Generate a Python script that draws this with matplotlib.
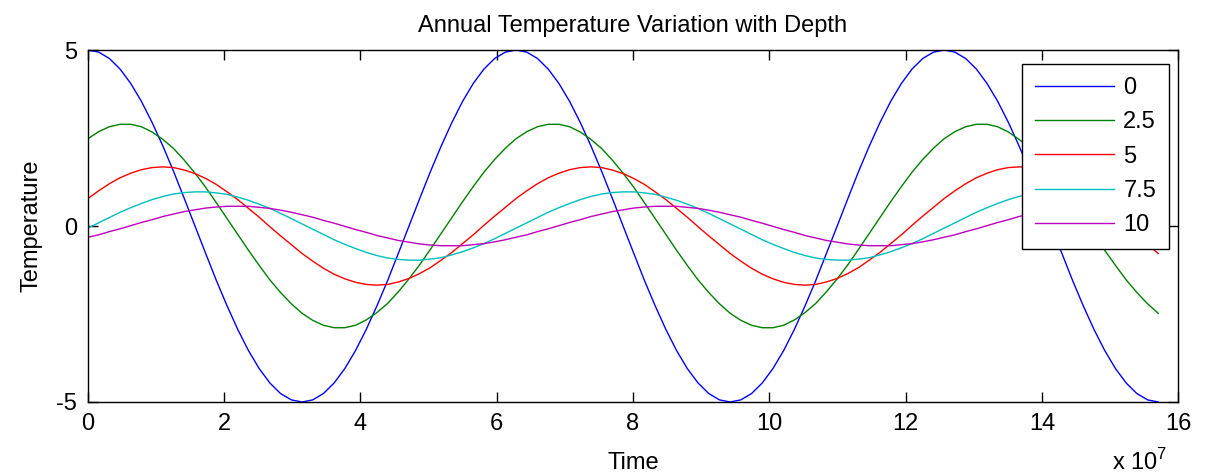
import matplotlib
matplotlib.use("Agg")
import matplotlib.pyplot as plt

plt.rcParams['font.family'] = ['Liberation Sans', 'DejaVu Sans']
plt.rcParams['mathtext.fontset'] = 'custom'
plt.rcParams['mathtext.rm'] = 'Liberation Sans'
plt.rcParams['axes.unicode_minus'] = False

# time in units of 1e7 s
time = [0.000, 0.157, 0.314, 0.471, 0.628, 0.785, 0.942, 1.100, 1.257, 1.414,
        1.571, 1.728, 1.885, 2.042, 2.199, 2.356, 2.513, 2.670, 2.827, 2.985,
        3.142, 3.299, 3.456, 3.613, 3.770, 3.927, 4.084, 4.241, 4.398, 4.555,
        4.712, 4.869, 5.027, 5.184, 5.341, 5.498, 5.655, 5.812, 5.969, 6.126,
        6.283, 6.440, 6.597, 6.754, 6.912, 7.069, 7.226, 7.383, 7.540, 7.697,
        7.854, 8.011, 8.168, 8.325, 8.482, 8.639, 8.796, 8.954, 9.111, 9.268,
        9.425, 9.582, 9.739, 9.896, 10.053, 10.210, 10.367, 10.524, 10.681, 10.838,
        10.996, 11.153, 11.310, 11.467, 11.624, 11.781, 11.938, 12.095, 12.252, 12.409,
        12.566, 12.723, 12.881, 13.038, 13.195, 13.352, 13.509, 13.666, 13.823, 13.980,
        14.137, 14.294, 14.451, 14.608, 14.765, 14.923, 15.080, 15.237, 15.394, 15.551,
        15.708]

depths = ['0', '2.5', '5', '7.5', '10']

temp_0 = [5.00, 4.94, 4.76, 4.46, 4.05, 3.54, 2.94, 2.27, 1.55, 0.78,
          0.00, -0.78, -1.55, -2.27, -2.94, -3.54, -4.05, -4.46, -4.76, -4.94,
          -5.00, -4.94, -4.76, -4.46, -4.05, -3.54, -2.94, -2.27, -1.55, -0.78,
          0.00, 0.78, 1.55, 2.27, 2.94, 3.54, 4.05, 4.46, 4.76, 4.94,
          5.00, 4.94, 4.76, 4.46, 4.05, 3.54, 2.94, 2.27, 1.55, 0.78,
          0.00, -0.78, -1.55, -2.27, -2.94, -3.54, -4.05, -4.46, -4.76, -4.94,
          -5.00, -4.94, -4.76, -4.46, -4.05, -3.54, -2.94, -2.27, -1.55, -0.78,
          0.00, 0.78, 1.55, 2.27, 2.94, 3.54, 4.05, 4.46, 4.76, 4.94,
          5.00, 4.94, 4.76, 4.46, 4.05, 3.54, 2.94, 2.27, 1.55, 0.78,
          0.00, -0.78, -1.55, -2.27, -2.94, -3.54, -4.05, -4.46, -4.76, -4.94,
          -5.00]
temp_25 = [2.48, 2.68, 2.82, 2.89, 2.89, 2.82, 2.67, 2.46, 2.20, 1.87,
           1.50, 1.10, 0.66, 0.21, -0.24, -0.69, -1.12, -1.53, -1.89, -2.21,
           -2.48, -2.68, -2.82, -2.89, -2.89, -2.82, -2.67, -2.46, -2.20, -1.87,
           -1.50, -1.10, -0.66, -0.21, 0.24, 0.69, 1.12, 1.53, 1.89, 2.21,
           2.48, 2.68, 2.82, 2.89, 2.89, 2.82, 2.67, 2.46, 2.20, 1.87,
           1.50, 1.10, 0.66, 0.21, -0.24, -0.69, -1.12, -1.53, -1.89, -2.21,
           -2.48, -2.68, -2.82, -2.89, -2.89, -2.82, -2.67, -2.46, -2.20, -1.87,
           -1.50, -1.10, -0.66, -0.21, 0.24, 0.69, 1.12, 1.53, 1.89, 2.21,
           2.48, 2.68, 2.82, 2.89, 2.89, 2.82, 2.67, 2.46, 2.20, 1.87,
           1.50, 1.10, 0.66, 0.21, -0.24, -0.69, -1.12, -1.53, -1.89, -2.21,
           -2.48]
temp_5 = [0.78, 1.00, 1.20, 1.37, 1.50, 1.60, 1.66, 1.68, 1.66, 1.59,
          1.49, 1.35, 1.18, 0.97, 0.75, 0.50, 0.25, -0.02, -0.28, -0.53,
          -0.78, -1.00, -1.20, -1.37, -1.50, -1.60, -1.66, -1.68, -1.66, -1.59,
          -1.49, -1.35, -1.18, -0.97, -0.75, -0.50, -0.25, 0.02, 0.28, 0.53,
          0.78, 1.00, 1.20, 1.37, 1.50, 1.60, 1.66, 1.68, 1.66, 1.59,
          1.49, 1.35, 1.18, 0.97, 0.75, 0.50, 0.25, -0.02, -0.28, -0.53,
          -0.78, -1.00, -1.20, -1.37, -1.50, -1.60, -1.66, -1.68, -1.66, -1.59,
          -1.49, -1.35, -1.18, -0.97, -0.75, -0.50, -0.25, 0.02, 0.28, 0.53,
          0.78, 1.00, 1.20, 1.37, 1.50, 1.60, 1.66, 1.68, 1.66, 1.59,
          1.49, 1.35, 1.18, 0.97, 0.75, 0.50, 0.25, -0.02, -0.28, -0.53,
          -0.78]
temp_75 = [-0.06, 0.09, 0.24, 0.39, 0.52, 0.64, 0.75, 0.84, 0.91, 0.95,
           0.97, 0.97, 0.94, 0.90, 0.82, 0.73, 0.62, 0.50, 0.36, 0.21,
           0.06, -0.09, -0.24, -0.39, -0.52, -0.64, -0.75, -0.84, -0.91, -0.95,
           -0.97, -0.97, -0.94, -0.90, -0.82, -0.73, -0.62, -0.50, -0.36, -0.21,
           -0.06, 0.09, 0.24, 0.39, 0.52, 0.64, 0.75, 0.84, 0.91, 0.95,
           0.97, 0.97, 0.94, 0.90, 0.82, 0.73, 0.62, 0.50, 0.36, 0.21,
           0.06, -0.09, -0.24, -0.39, -0.52, -0.64, -0.75, -0.84, -0.91, -0.95,
           -0.97, -0.97, -0.94, -0.90, -0.82, -0.73, -0.62, -0.50, -0.36, -0.21,
           -0.06, 0.09, 0.24, 0.39, 0.52, 0.64, 0.75, 0.84, 0.91, 0.95,
           0.97, 0.97, 0.94, 0.90, 0.82, 0.73, 0.62, 0.50, 0.36, 0.21,
           0.06]
temp_10 = [-0.32, -0.25, -0.16, -0.08, 0.01, 0.10, 0.18, 0.27, 0.34, 0.41,
           0.46, 0.51, 0.54, 0.56, 0.56, 0.56, 0.53, 0.50, 0.45, 0.39,
           0.32, 0.25, 0.16, 0.08, -0.01, -0.10, -0.18, -0.27, -0.34, -0.41,
           -0.46, -0.51, -0.54, -0.56, -0.56, -0.56, -0.53, -0.50, -0.45, -0.39,
           -0.32, -0.25, -0.16, -0.08, 0.01, 0.10, 0.18, 0.27, 0.34, 0.41,
           0.46, 0.51, 0.54, 0.56, 0.56, 0.56, 0.53, 0.50, 0.45, 0.39,
           0.32, 0.25, 0.16, 0.08, -0.01, -0.10, -0.18, -0.27, -0.34, -0.41,
           -0.46, -0.51, -0.54, -0.56, -0.56, -0.56, -0.53, -0.50, -0.45, -0.39,
           -0.32, -0.25, -0.16, -0.08, 0.01, 0.10, 0.18, 0.27, 0.34, 0.41,
           0.46, 0.51, 0.54, 0.56, 0.56, 0.56, 0.53, 0.50, 0.45, 0.39,
           0.32]

colors = ['#0000ff', '#008000', '#ff0000', '#00bfbf', '#bf00bf']
series = [temp_0, temp_25, temp_5, temp_75, temp_10]

fs = 17

fig = plt.figure(figsize=(12.08, 4.75), dpi=100)
ax = fig.add_axes([0.0728, 0.1537, 0.9025, 0.741])

for temps, c, lab in zip(series, colors, depths):
    ax.plot(time, temps, color=c, lw=1.0, label=lab)

ax.set_xlim(0, 16)
ax.set_ylim(-5, 5)
ax.set_xticks(range(0, 17, 2))
ax.set_yticks([-5, 0, 5])
ax.tick_params(direction='in', top=True, right=True, length=7, width=1,
               labelsize=fs, pad=8)
for sp in ax.spines.values():
    sp.set_linewidth(1.0)

ax.set_title('Annual Temperature Variation with Depth', fontsize=fs, pad=13)
ax.set_xlabel('Time', fontsize=fs, labelpad=12)
ax.set_ylabel('Temperature', fontsize=fs, labelpad=10)
ax.text(0.9395, -0.193, r'x 10$^{7}$', transform=ax.transAxes,
        fontsize=fs, va='baseline', ha='left')

leg = ax.legend(loc='upper right', bbox_to_anchor=(0.9917, 0.960),
                borderaxespad=0, fontsize=fs, fancybox=False, framealpha=1,
                edgecolor='black', handlelength=3.35, handletextpad=0.4,
                labelspacing=0.52, borderpad=0.55)
leg.get_frame().set_linewidth(1.0)

fig.savefig('out.png', dpi=100)
